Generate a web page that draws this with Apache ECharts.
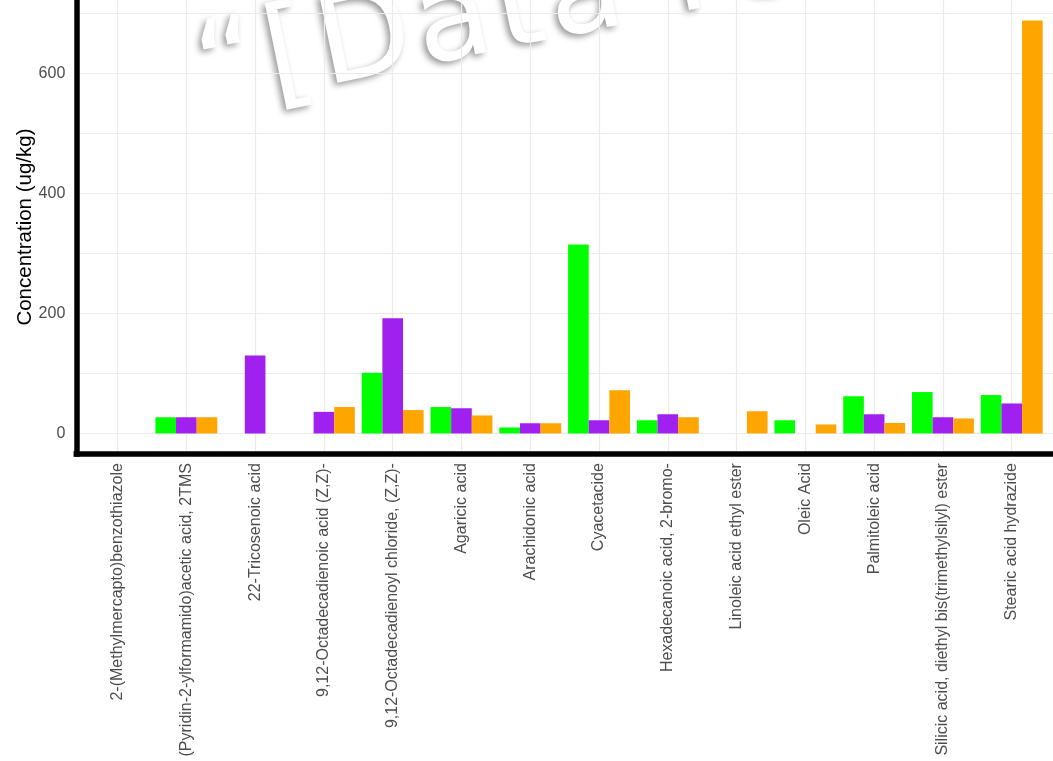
<!DOCTYPE html>
<html>
<head>
<meta charset="utf-8">
<script src="https://cdn.jsdelivr.net/npm/echarts@6/dist/echarts.min.js"></script>
<style>
  html, body { margin: 0; padding: 0; background: #ffffff; }
  #chart { width: 1053px; height: 761px; }
</style>
</head>
<body>
<div id="chart"></div>
<script>
// Compounds on the x axis
const categories = [
  '2-(Methylmercapto)benzothiazole',
  '(Pyridin-2-ylformamido)acetic acid, 2TMS',
  '22-Tricosenoic acid',
  '9,12-Octadecadienoic acid (Z,Z)-',
  '9,12-Octadecadienoyl chloride, (Z,Z)-',
  'Agaricic acid',
  'Arachidonic acid',
  'Cyacetacide',
  'Hexadecanoic acid, 2-bromo-',
  'Linoleic acid ethyl ester',
  'Oleic Acid',
  'Palmitoleic acid',
  'Silicic acid, diethyl bis(trimethylsilyl) ester',
  'Stearic acid hydrazide'
];

// Concentrations (ug/kg) per group; null = not detected
const greenValues  = [null, 27, null, null, 101, 44, 10, 315, 22, null, 22, 62, 69, 64];
const purpleValues = [null, 27, 130, 36, 192, 42, 17, 22, 32, null, null, 32, 27, 50];
const orangeValues = [null, 27, null, 44, 39, 30, 17, 72, 27, 37, 15, 17.5, 25, 688];

// Axis ticks
const yGridValues  = [0, 100, 200, 300, 400, 500, 600, 700];
const yLabelValues = [0, 200, 400, 600];
const xIndexValues = categories.map((_, i) => i);

const textColor = '#4D4D4D';
const gridColor = '#EBEBEB';
const fontFamily = '"Liberation Sans", Arial, sans-serif';

function pairs(values) {
  return values.map((v, i) => [i, v]);
}

// Embossed, letter-spaced stamp text laid out one glyph at a time
function stampText(text, font, spacing) {
  const ctx = document.createElement('canvas').getContext('2d');
  ctx.font = font;
  let x = 0;
  const children = [];
  for (const ch of text) {
    children.push({
      type: 'text',
      x: x,
      y: 0,
      style: {
        text: ch,
        font: font,
        fill: '#ffffff',
        align: 'left',
        verticalAlign: 'middle',
        textShadowColor: 'rgba(0,0,0,0.4)',
        textShadowBlur: 6,
        textShadowOffsetX: -3,
        textShadowOffsetY: 3
      }
    });
    x += ctx.measureText(ch).width + spacing;
  }
  return children;
}

const stampFont = '122px "DejaVu Sans", sans-serif';

const chart = echarts.init(document.getElementById('chart'), null, { renderer: 'canvas' });

chart.setOption({
  backgroundColor: '#ffffff',
  animation: false,
  grid: {
    left: 76.3,
    right: -7.5,
    top: -1.5,
    height: 455.6,
    containLabel: false
  },
  xAxis: {
    type: 'value',
    min: -0.6,
    max: 13.6,
    axisLine: {
      show: true,
      onZero: false,
      lineStyle: { color: '#000000', width: 5.5, cap: 'square' }
    },
    axisTick: { show: false, customValues: xIndexValues },
    splitLine: { show: true, lineStyle: { color: gridColor, width: 1.2 } },
    axisLabel: {
      customValues: xIndexValues,
      rotate: 90,
      margin: 9,
      color: textColor,
      fontFamily: fontFamily,
      fontSize: 16,
      formatter: v => categories[Math.round(v)] || ''
    }
  },
  yAxis: {
    type: 'value',
    min: -34.4,
    max: 722.3,
    name: 'Concentration (ug/kg)',
    nameLocation: 'middle',
    nameGap: 40,
    nameMoveOverlap: false,
    nameTextStyle: { color: '#000000', fontFamily: fontFamily, fontSize: 20.5 },
    axisLine: {
      show: true,
      onZero: false,
      lineStyle: { color: '#000000', width: 5.5, cap: 'square' }
    },
    axisTick: { show: false, customValues: yGridValues },
    splitLine: { show: true, lineStyle: { color: gridColor, width: 1.2 } },
    axisLabel: {
      customValues: yLabelValues,
      margin: 11,
      color: textColor,
      fontFamily: fontFamily,
      fontSize: 16
    }
  },
  series: [
    { name: 'Green', type: 'bar', data: pairs(greenValues),
      itemStyle: { color: '#00FF00' }, barGap: '0%', barCategoryGap: '10%' },
    { name: 'Purple', type: 'bar', data: pairs(purpleValues),
      itemStyle: { color: '#A020F0' }, barGap: '0%', barCategoryGap: '10%' },
    { name: 'Orange', type: 'bar', data: pairs(orangeValues),
      itemStyle: { color: '#FFA500' }, barGap: '0%', barCategoryGap: '10%' }
  ],
  graphic: [
    {
      type: 'group',
      x: 199,
      y: 79,
      rotation: 0.204,
      z: 100,
      silent: true,
      children: stampText('\u201C[Data removed]\u201D', stampFont, 6)
    }
  ]
});
</script>
</body>
</html>
